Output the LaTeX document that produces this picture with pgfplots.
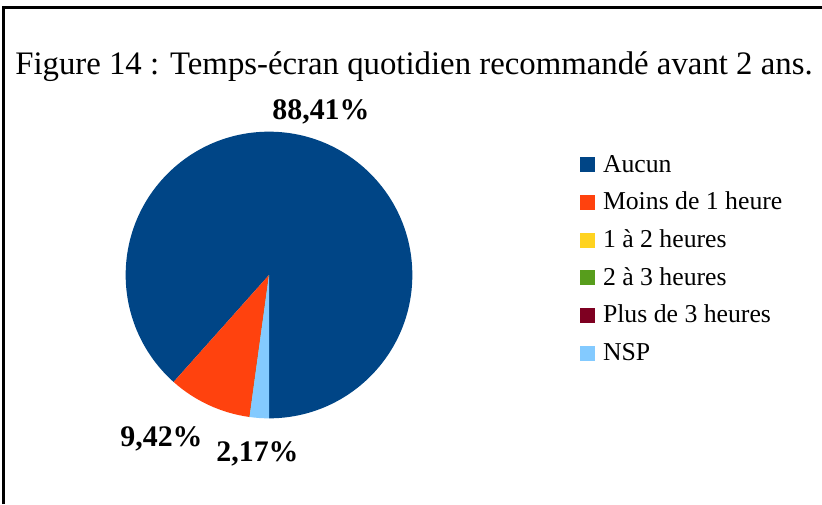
\documentclass[border=0pt]{standalone}
\usepackage{fontspec}
\setmainfont{Liberation Serif}
\usepackage{pgfplots}
\pgfplotsset{compat=1.18}

% LibreOffice default palette
\definecolor{aucun}{HTML}{004586}
\definecolor{moins}{HTML}{FF420E}
\definecolor{unadeux}{HTML}{FFD320}
\definecolor{deuxatrois}{HTML}{579D1C}
\definecolor{plustrois}{HTML}{7E0021}
\definecolor{nsp}{HTML}{83CAFF}

\begin{document}
\begin{tikzpicture}
\path[use as bounding box] (0,0) rectangle (616.5pt,378pt);
\begin{axis}[
    scale only axis,
    width=616.5pt, height=378pt,
    xmin=0, xmax=822,
    ymin=0, ymax=504,
    y dir=reverse,
    hide axis,
    clip=false,
    legend cell align=left,
    legend image code/.code={\fill[#1, draw=none] (0pt,-5.625pt) rectangle (11.25pt,5.625pt);},
    legend style={
        at={(axis cs:580,157.3)}, anchor=north west,
        draw=none, fill=none, inner sep=0pt, outer sep=0pt,
        row sep=17pt, column sep=6pt,
        font=\fontsize{19.3}{22}\selectfont,
        nodes={inner sep=0pt, text height=11.25pt, text depth=0pt},
    },
]
% frame (top and left edges only)
\draw[line width=2.25pt] (axis cs:3.2,504) -- (axis cs:3.2,7.5) -- (axis cs:822,7.5);

% pie slices: percentages, starting at the bottom, counterclockwise
\pgfplotsextra{
  \gdef\startangle{270}
  \foreach \v/\c in {88.41/aucun, 9.42/moins, 0/unadeux, 0/deuxatrois, 0/plustrois, 2.17/nsp}{
    \pgfmathsetmacro\endangle{\startangle+3.6*\v}
    \fill[\c] (axis cs:269,275) -- ++(\startangle:107.5pt)
      arc[start angle=\startangle, end angle=\endangle, radius=107.5pt] -- cycle;
    \global\let\startangle\endangle
  }
}

\node[anchor=base west, inner sep=0pt, font=\fontsize{24.6}{28}\selectfont]
  at (axis cs:15,74) {Figure 14 : Temps-écran quotidien recommandé avant 2 ans.};

\node[anchor=base, inner sep=0pt, font=\bfseries\fontsize{22.4}{26}\selectfont] at (axis cs:321,119) {88,41\%};
\node[anchor=base, inner sep=0pt, font=\bfseries\fontsize{22.4}{26}\selectfont] at (axis cs:161.5,446.7) {9,42\%};
\node[anchor=base, inner sep=0pt, font=\bfseries\fontsize{22.4}{26}\selectfont] at (axis cs:257.5,461) {2,17\%};

\addlegendimage{fill=aucun}
\addlegendentry{Aucun}
\addlegendimage{fill=moins}
\addlegendentry{Moins de 1 heure}
\addlegendimage{fill=unadeux}
\addlegendentry{1 à 2 heures}
\addlegendimage{fill=deuxatrois}
\addlegendentry{2 à 3 heures}
\addlegendimage{fill=plustrois}
\addlegendentry{Plus de 3 heures}
\addlegendimage{fill=nsp}
\addlegendentry{NSP}
\end{axis}
\end{tikzpicture}
\end{document}
